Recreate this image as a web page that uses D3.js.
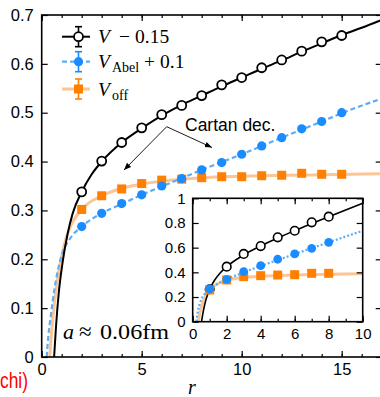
<!DOCTYPE html>
<html><head><meta charset="utf-8">
<script src="https://cdn.jsdelivr.net/npm/d3@7"></script>
<style>
html,body{margin:0;padding:0;background:#fff;}
svg{display:block;}
.tick text{font-family:"Liberation Sans",Arial,sans-serif;}
</style></head>
<body><svg id="c" width="380" height="397"></svg>
<script>
// ---------- data ----------
const rPts = [2,3,4,5,6,7,8,9,10,11,12,13,14,15];
const vFull = [0.338,0.401,0.439,0.469,0.496,0.515,0.535,0.557,0.572,0.592,0.608,0.626,0.645,0.658];
const vAbel = [0.267,0.294,0.314,0.332,0.350,0.365,0.383,0.398,0.415,0.432,0.449,0.467,0.482,0.500];
const vOff  = [0.302,0.330,0.344,0.355,0.362,0.364,0.367,0.369,0.369,0.371,0.372,0.376,0.374,0.374];
const vOffErr = [0.006,0.005,0.004,0.004,0.004,0.004,0.004,0.004,0.004,0.004,0.004,0.004,0.004,0.004];

// fit curves
const curveFullR = [0.62,0.72,0.85,1.05,1.3,1.55,2,2.5,3,4,5,6,7,8,9,10,11,12,13,14,15,16,17];
const curveFullV = [0,0.065,0.13,0.195,0.253,0.294,0.338,0.374,0.400,0.439,0.468,0.494,0.516,0.535,0.554,0.572,0.590,0.607,0.625,0.642,0.659,0.674,0.690];
const curveAbelR = [0.25,0.33,0.47,0.63,0.88,1.05,1.38,2,3,4,5,6,7,8,10,12,14,15,17];
const curveAbelV = [0,0.042,0.089,0.137,0.190,0.214,0.240,0.267,0.294,0.313,0.332,0.349,0.366,0.383,0.415,0.449,0.482,0.499,0.529];
const curveOffR = [0.40,0.47,0.63,0.88,1.13,1.38,2,3,4,5,6,7,8,10,12,14,17];
const curveOffV = [0,0.040,0.108,0.180,0.230,0.262,0.302,0.330,0.345,0.354,0.360,0.364,0.367,0.370,0.372,0.373,0.375];

// inset
const rIn = [1,2,3,4,5,6,7,8];
const inFull = [0.263,0.446,0.549,0.613,0.684,0.737,0.805,0.851];
const inAbel = [0.265,0.343,0.405,0.454,0.506,0.549,0.595,0.643];
const inOff  = [0.257,0.338,0.365,0.373,0.378,0.381,0.392,0.392];
const inCurveFullR = [0.52,0.6,0.7,0.8,1,1.3,1.6,2,3,4,5,6,7,8,9,10];
const inCurveFullV = [0,0.067,0.135,0.187,0.263,0.339,0.393,0.446,0.541,0.614,0.678,0.738,0.795,0.851,0.906,0.960];
const inCurveAbelR = [0.22,0.3,0.4,0.5,0.7,1,1.5,2,3,4,5,6,7,8,9,10];
const inCurveAbelV = [0,0.083,0.141,0.178,0.224,0.265,0.309,0.343,0.400,0.451,0.500,0.548,0.596,0.643,0.690,0.737];
const inCurveOffR = [0.33,0.4,0.5,0.7,1,1.5,2,3,4,5,6,8,10];
const inCurveOffV = [0,0.06,0.12,0.19,0.257,0.31,0.335,0.358,0.368,0.374,0.378,0.384,0.388];

const xMainTicks = [0,5,10,15];
const yMainTicks = [0,0.1,0.2,0.3,0.4,0.5,0.6,0.7];
const xInTicks = [0,2,4,6,8,10];
const yInTicks = [0,0.2,0.4,0.6,0.8,1];

// ---------- drawing ----------
const svg = d3.select("#c");
const BLACK="#000", BLUE="#1a8cff", BLUEL="#5eacf5", ORANGE="#ff8000", ORANGEL="#fdc593";

const x = d3.scaleLinear().domain([0,17]).range([41.7,381.7]);
const y = d3.scaleLinear().domain([0,0.7]).range([357,15]);

function frame(g, xs, ys, xMaj, xMin, yMaj, fontSize, labelGapX, labelGapY, fmtY){
  const [x0,x1]=xs.range(), [y0,y1]=ys.range();
  const ax = g.append("g").attr("transform",`translate(0,${y0})`)
    .call(d3.axisBottom(xs).tickValues(xMaj).tickSize(-6).tickPadding(labelGapX).tickFormat(d3.format("d")));
  ax.selectAll(".tick text").attr("font-size",fontSize).attr("fill","#000");
  ax.select(".domain").remove();
  g.append("g").attr("transform",`translate(0,${y0})`)
    .call(d3.axisBottom(xs).tickValues(xMin).tickSize(-3).tickFormat(""))
    .select(".domain").remove();
  g.append("g").attr("transform",`translate(0,${y1})`)
    .call(d3.axisTop(xs).tickValues(xMaj).tickSize(-6).tickFormat("")).select(".domain").remove();
  g.append("g").attr("transform",`translate(0,${y1})`)
    .call(d3.axisTop(xs).tickValues(xMin).tickSize(-3).tickFormat("")).select(".domain").remove();
  const ay = g.append("g").attr("transform",`translate(${x0},0)`)
    .call(d3.axisLeft(ys).tickValues(yMaj).tickSize(-6).tickPadding(labelGapY).tickFormat(fmtY));
  ay.selectAll(".tick text").attr("font-size",fontSize).attr("fill","#000");
  ay.select(".domain").remove();
  g.append("g").attr("transform",`translate(${x1},0)`)
    .call(d3.axisRight(ys).tickValues(yMaj).tickSize(-6).tickFormat("")).select(".domain").remove();
  g.selectAll(".tick line").attr("stroke","#000").attr("stroke-width",1.2);
  g.append("rect").attr("x",x0).attr("y",y1).attr("width",x1-x0).attr("height",y0-y1)
    .attr("fill","none").attr("stroke","#000").attr("stroke-width",1.6);
}

function curve(g, xs, ys, R, V, color, width, dash){
  const line = d3.line().x((d,i)=>xs(R[i])).y((d,i)=>ys(V[i])).curve(d3.curveMonotoneX);
  g.append("path").attr("d",line(R)).attr("fill","none").attr("stroke",color)
    .attr("stroke-width",width).attr("stroke-dasharray",dash||null);
}

const defs = svg.append("defs");
defs.append("clipPath").attr("id","mclip").append("rect")
  .attr("x",41.7).attr("y",15).attr("width",340).attr("height",342);
defs.append("clipPath").attr("id","iclip").append("rect")
  .attr("x",192.7).attr("y",198.3).attr("width",170).attr("height",123.4);

const main = svg.append("g");
const plot = main.append("g").attr("clip-path","url(#mclip)");
curve(plot,x,y,curveOffR,curveOffV,ORANGEL,3);
curve(plot,x,y,curveAbelR,curveAbelV,BLUEL,2.2,"5,3");
curve(plot,x,y,curveFullR,curveFullV,BLACK,2);

rPts.forEach((r,i)=>{
  const cx=x(r), t=y(vOff[i]+vOffErr[i]), b=y(vOff[i]-vOffErr[i]);
  plot.append("line").attr("x1",cx).attr("x2",cx).attr("y1",t).attr("y2",b).attr("stroke",ORANGE).attr("stroke-width",1.5);
  plot.append("line").attr("x1",cx-3).attr("x2",cx+3).attr("y1",t).attr("y2",t).attr("stroke",ORANGE).attr("stroke-width",1.5);
  plot.append("line").attr("x1",cx-3).attr("x2",cx+3).attr("y1",b).attr("y2",b).attr("stroke",ORANGE).attr("stroke-width",1.5);
});
plot.selectAll("rect.off").data(rPts).join("rect").attr("class","off")
  .attr("x",d=>x(d)-4.5).attr("y",(d,i)=>y(vOff[i])-4.5).attr("width",9).attr("height",9).attr("fill",ORANGE);
plot.selectAll("circle.abel").data(rPts).join("circle").attr("class","abel")
  .attr("cx",d=>x(d)).attr("cy",(d,i)=>y(vAbel[i])).attr("r",4.6).attr("fill",BLUE);
plot.selectAll("circle.full").data(rPts).join("circle").attr("class","full")
  .attr("cx",d=>x(d)).attr("cy",(d,i)=>y(vFull[i])).attr("r",4.5).attr("fill","#fff").attr("stroke",BLACK).attr("stroke-width",1.8);

frame(main,x,y,xMainTicks,d3.range(0,18),yMainTicks,16.5,6,8,d=>d===0?"0":d3.format(".1f")(d));

svg.append("text").attr("x",192).attr("y",394).attr("font-family","Liberation Serif,serif")
  .attr("font-style","italic").attr("font-size",20).attr("text-anchor","middle").text("r");

// legend
const lg = svg.append("g");
const SERIF="Liberation Serif,serif";
const legRows = [
  {y:36.7, line:BLACK, lw:2, dash:null, err:BLACK, mark:"circle",
   parts:[{t:"V",x:98,it:1},{t:"−",x:119},{t:"0.15",x:135}]},
  {y:61.7, line:BLUEL, lw:2.2, dash:"5,3", err:BLUE, mark:"dot",
   parts:[{t:"V",x:98,it:1},{t:"Abel",x:112,sub:1},{t:"+",x:144},{t:"0.1",x:160}]},
  {y:89, line:ORANGEL, lw:3, dash:null, err:ORANGE, mark:"square",
   parts:[{t:"V",x:98,it:1},{t:"off",x:112,sub:1}]}
];
legRows.forEach(rw=>{
  lg.append("line").attr("x1",62).attr("x2",90).attr("y1",rw.y).attr("y2",rw.y)
    .attr("stroke",rw.line).attr("stroke-width",rw.lw).attr("stroke-dasharray",rw.dash);
  const cx=78.5;
  [[cx,cx,rw.y-10,rw.y+10],[cx-3.5,cx+3.5,rw.y-10,rw.y-10],[cx-3.5,cx+3.5,rw.y+10,rw.y+10]].forEach(l=>
    lg.append("line").attr("x1",l[0]).attr("x2",l[1]).attr("y1",l[2]).attr("y2",l[3]).attr("stroke",rw.err).attr("stroke-width",1.6));
  if(rw.mark==="circle") lg.append("circle").attr("cx",cx).attr("cy",rw.y).attr("r",4.5).attr("fill","#fff").attr("stroke","#000").attr("stroke-width",1.8);
  if(rw.mark==="dot") lg.append("circle").attr("cx",cx).attr("cy",rw.y).attr("r",4.6).attr("fill",BLUE);
  if(rw.mark==="square") lg.append("rect").attr("x",cx-4.5).attr("y",rw.y-4.5).attr("width",9).attr("height",9).attr("fill",ORANGE);
  rw.parts.forEach(p=>{
    lg.append("text").attr("x",p.x).attr("y",rw.y+6.5+(p.sub?4:0))
      .attr("font-family",SERIF).attr("font-size",p.sub?14:19.5)
      .attr("font-style",p.it?"italic":null).text(p.t);
  });
});

// a ≈ 0.06fm
const aY=339;
svg.append("text").attr("x",63).attr("y",aY).attr("font-family",SERIF).attr("font-size",22).attr("font-style","italic").text("a");
svg.append("text").attr("x",79).attr("y",aY).attr("font-family",SERIF).attr("font-size",23).text("≈");
svg.append("text").attr("x",100).attr("y",aY).attr("font-family",SERIF).attr("font-size",22)
  .attr("textLength",69).attr("lengthAdjust","spacingAndGlyphs").text("0.06fm");

// Cartan dec. annotation
svg.append("text").attr("x",185).attr("y",131).attr("font-family","Liberation Sans,Arial,sans-serif")
  .attr("font-size",17.5).text("Cartan dec.");
defs.append("marker").attr("id","arr").attr("viewBox","0 0 10 10").attr("refX",10).attr("refY",5)
  .attr("markerWidth",8).attr("markerHeight",8).attr("orient","auto")
  .append("path").attr("d","M0,1 L10,5 L0,9 Z").attr("fill","#000");
[[166.7,126.7,124,170],[166.7,126.7,212,147.5]].forEach(a=>
  svg.append("line").attr("x1",a[0]).attr("y1",a[1]).attr("x2",a[2]).attr("y2",a[3])
    .attr("stroke","#000").attr("stroke-width",0.9).attr("marker-end","url(#arr)"));

// inset
const xi = d3.scaleLinear().domain([0,10]).range([192.7,362.7]);
const yi = d3.scaleLinear().domain([0,1]).range([321.7,198.3]);
const ins = svg.append("g");
ins.append("rect").attr("x",192.7).attr("y",198.3).attr("width",170).attr("height",123.4).attr("fill","#fff");
const ip = ins.append("g").attr("clip-path","url(#iclip)");
curve(ip,xi,yi,inCurveOffR,inCurveOffV,ORANGEL,3);
curve(ip,xi,yi,inCurveAbelR,inCurveAbelV,BLUEL,2.2,"2,2");
curve(ip,xi,yi,inCurveFullR,inCurveFullV,BLACK,1.6);
ip.selectAll("circle.full").data(rIn).join("circle").attr("class","full")
  .attr("cx",d=>xi(d)).attr("cy",(d,i)=>yi(inFull[i])).attr("r",4.3).attr("fill","#fff").attr("stroke","#000").attr("stroke-width",1.6);
ip.selectAll("rect.off").data(rIn).join("rect").attr("class","off")
  .attr("x",d=>xi(d)-4.5).attr("y",(d,i)=>yi(inOff[i])-4.5).attr("width",9).attr("height",9).attr("fill",ORANGE);
ip.selectAll("circle.abel").data(rIn).join("circle").attr("class","abel")
  .attr("cx",d=>xi(d)).attr("cy",(d,i)=>yi(inAbel[i])).attr("r",4.4).attr("fill",BLUE);
frame(ins,xi,yi,xInTicks,d3.range(0,11),yInTicks,15,7,7,d=>d===0?"0":(d===1?"1":d3.format(".1f")(d)));

// clipped neighbour label
svg.append("text").attr("x",28).attr("y",388).attr("text-anchor","end")
  .attr("font-family","Liberation Sans,Arial,sans-serif").attr("font-size",22)
  .attr("textLength",28).attr("lengthAdjust","spacingAndGlyphs").attr("fill","#ff0000").text("chi)");
</script></body></html>
